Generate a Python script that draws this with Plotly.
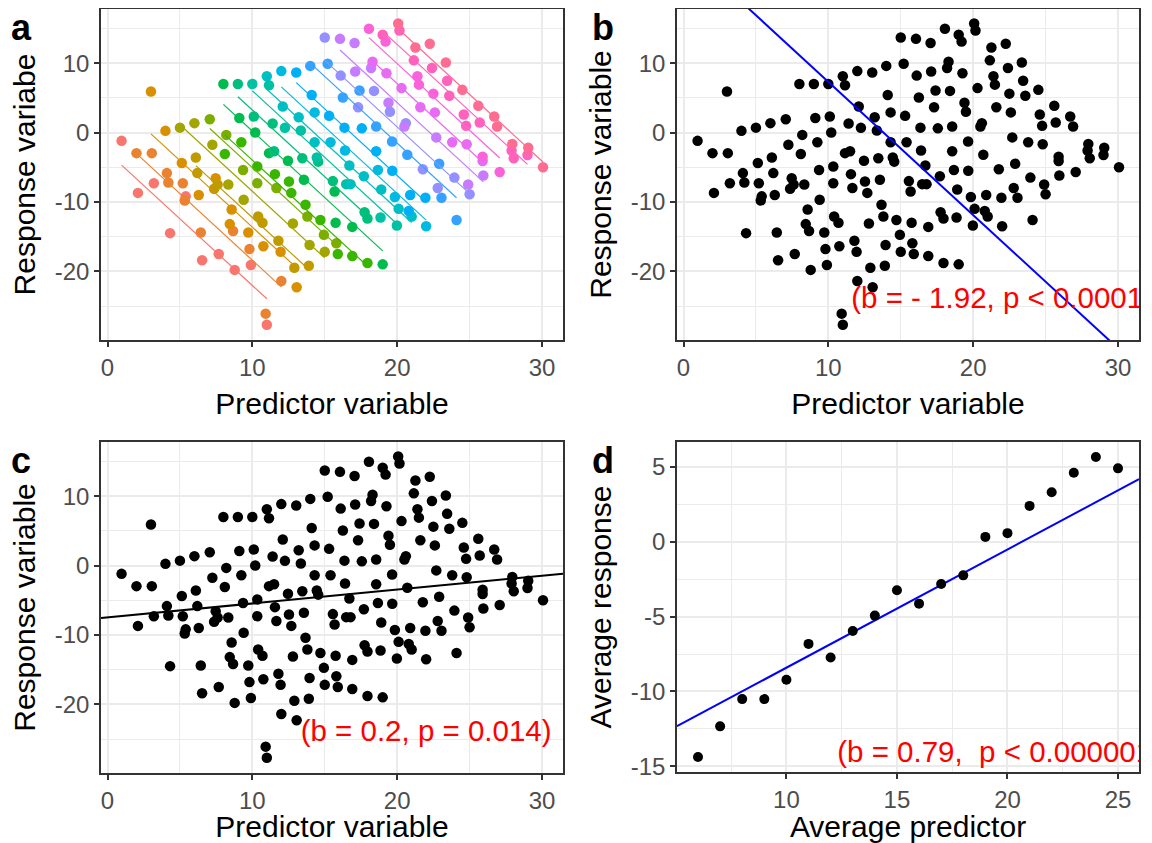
import plotly.graph_objects as go

# ---------------- data ----------------
pred_x = [15.0, 3.0, 4.0, 5.0, 6.0, 7.06, 8.0, 9.0, 10.0, 11.0, 11.15, 12.0, 13.03, 14.0, 15.2, 14.1, 12.1, 13.2, 14.3, 15.3, 9.1, 10.1, 11.4, 12.25, 13.35, 10.2, 8.2,
          20.07, 20.16, 18.05, 19.0, 19.2, 16.05, 17.06, 22.25, 21.26, 21.15, 23.36, 22.4, 23.45, 24.5, 25.6, 26.7, 26.9, 25.7, 24.76, 24.6, 23.6, 22.5, 21.5, 21.4, 20.3, 19.26, 18.3, 18.2, 17.1, 18.4, 19.4, 19.5, 17.3, 16.1, 16.25, 17.4, 21.6, 22.6, 20.6, 20.5, 18.55, 17.56, 16.36,
          0.97, 2.0, 3.06, 2.1, 3.2, 4.1, 4.2, 5.13, 5.2, 5.4, 5.33, 6.1, 6.2, 6.3, 7.24, 8.1, 7.47, 7.6, 7.36, 8.34, 9.24, 9.36, 9.4, 8.57, 8.44, 8.67, 10.34, 10.34, 10.4,
          11.15, 11.5, 11.56, 12.46, 13.45, 14.45, 14.55, 14.3, 15.4, 16.4, 18.55, 19.65, 20.7, 12.53, 13.56, 11.66, 12.69, 15.56, 15.68, 16.48, 16.78, 16.7, 17.7, 18.67, 19.66, 18.9, 19.84, 20.9, 20.8, 20.1, 10.7, 12.8, 13.67, 13.8, 14.7, 15.75, 16.9, 17.75, 17.95, 18.85, 19.98, 21.0, 22.0, 24.1,
          22.7, 23.8, 24.8, 25.9, 25.9, 27.08, 25.95, 24.9, 25.0, 23.95, 22.8, 21.77, 22.9, 21.95, 23.06, 27.95, 27.9, 28.05, 29.05, 29.0, 30.07,
          9.72, 9.8, 9.9, 8.78, 7.68, 6.53, 6.44, 4.32, 10.76, 12.0, 13.06, 10.92, 11.0, 11.8, 11.95, 13.95, 12.9, 13.9, 14.94, 15.0,
          15.8, 15.9, 16.9, 17.95, 19.0]
resp_y = [13.7, 5.9, 0.24, 0.7, 1.35, 1.92, 7.0, 7.0, 7.0, 8.1, 6.8, 8.85, 8.65, 9.6, 9.9, 5.4, 3.75, 2.2, 2.9, 2.4, 2.1, 2.3, 1.3, 0.67, 0.29, 0.0, -0.34,
          15.7, 14.7, 14.95, 14.1, 13.1, 13.5, 12.9, 12.8, 12.26, 10.4, 10.1, 9.3, 7.45, 6.15, 3.85, 2.3, 0.87, 1.44, 0.96, 2.6, 5.3, 5.6, 6.9, 8.1, 6.4, 8.55, 10.2, 9.3, 8.8, 6.0, 4.3, 3.0, 3.65, 8.2, 5.05, 6.05, 3.65, 2.9, 1.35, 0.87, 0.87, 0.6, 0.7,
          -1.2, -2.97, -2.97, -8.7, -7.3, -5.85, -7.2, -4.4, -7.3, -9.2, -9.8, -3.6, -5.85, -9.0, -1.77, -3.1, -6.6, -7.5, -8.1, -7.5, -1.4, -5.4, -9.7, -11.1, -13.2, -14.2, -4.9, -7.3, -12.1,
          -2.97, -2.7, -6.0, -4.08, -3.7, -3.6, -4.2, -1.4, -1.4, -2.6, -2.7, -1.3, -3.2, -7.06, -6.8, -8.0, -8.7, -7.0, -8.5, -7.44, -7.44, -4.75, -6.3, -5.4, -5.5, -8.2, -9.3, -9.0, -11.3, -11.0, -13.0, -13.1, -10.4, -12.1, -12.6, -13.0, -13.6, -11.5, -12.4, -12.25, -13.4, -12.1, -13.5, -12.6,
          -0.7, -1.4, -1.7, -3.5, -4.1, -5.7, -6.2, -7.5, -8.9, -6.5, -8.0, -5.3, -4.5, -9.4, -9.4, -1.65, -2.6, -3.7, -2.2, -3.25, -5.0,
          -14.4, -16.8, -19.1, -19.8, -17.5, -18.4, -14.4, -14.5, -16.4, -21.4, -22.3, -26.1, -27.7, -15.6, -17.2, -16.2, -19.5, -19.2, -14.75, -17.2,
          -15.95, -17.5, -17.8, -18.8, -19.0]
group_id = [15, 3, 3, 5, 5, 6, 8, 9, 10, 11, 10, 12, 13, 14, 14, 13, 11, 11, 12, 13, 8, 9, 9, 10, 10, 8, 6,
            20, 19, 18, 19, 18, 16, 16, 20, 20, 19, 20, 19, 19, 20, 20, 20, 20, 19, 19, 19, 19, 18, 18, 18, 17, 17, 17, 16, 16, 15, 16, 15, 15, 15, 14, 14, 17, 17, 15, 16, 14, 13, 13,
            1, 2, 2, 1, 1, 2, 2, 3, 2, 1, 2, 4, 4, 3, 5, 7, 3, 4, 4, 5, 7, 6, 5, 3, 3, 2, 7, 6, 4,
            8, 9, 7, 8, 9, 10, 9, 11, 12, 12, 13, 14, 14, 7, 8, 6, 7, 9, 8, 10, 11, 11, 11, 12, 13, 11, 12, 13, 13, 11, 4, 5, 7, 6, 7, 8, 8, 9, 9, 10, 10, 11, 12, 14,
            16, 17, 17, 18, 17, 18, 16, 16, 15, 15, 15, 15, 14, 13, 14, 20, 19, 19, 20, 19, 20,
            3, 2, 1, 1, 1, 1, 2, 1, 3, 2, 3, 2, 1, 4, 3, 5, 4, 4, 6, 5,
            6, 7, 7, 7, 8]

avg_pred = [6, 7, 8, 9, 10, 11, 12, 13, 14, 15, 16, 17, 18, 19, 20, 21, 22, 23, 24, 25]
avg_resp = [-14.38, -12.33, -10.51, -10.51, -9.22, -6.82, -7.73, -5.96, -4.93, -3.24,
            -4.13, -2.82, -2.24, 0.33, 0.58, 2.4, 3.31, 4.62, 5.67, 4.91]

# tick labels
ticks_pred = [0, 10, 20, 30]
ticks_pred_text = ["0", "10", "20", "30"]
ticks_resp = [-20, -10, 0, 10]
ticks_resp_text = ["-20", "-10", "0", "10"]
ticks_avgpred = [10, 15, 20, 25]
ticks_avgpred_text = ["10", "15", "20", "25"]
ticks_avgresp = [-15, -10, -5, 0, 5]
ticks_avgresp_text = ["-15", "-10", "-5", "0", "5"]

# model coefficients
within_slope = -1.92
b_intercept = 26.5
c_intercept, c_slope = -7.47, 0.2
d_intercept, d_slope = -16.31, 0.79

label_b = "(b = - 1.92, p < 0.0001)"
label_c = "(b = 0.2, p = 0.014)"
label_d = "(b = 0.79,\u00a0 p < 0.000001)"

hue_colors = ["#F8766D", "#EA8331", "#D89000", "#C09B00", "#A3A500", "#7CAE00", "#39B600",
              "#00BB4E", "#00BF7D", "#00C1A3", "#00BFC4", "#00BAE0", "#00B0F6", "#35A2FF",
              "#9590FF", "#C77CFF", "#E76BF3", "#FA62DB", "#FF62BC", "#FF6C91"]

# ---------------- figure ----------------
# the page body has an 8px margin, so the figure is drawn 8px in from the window corner
OFF = 8
W, H = 1152 - OFF, 843 - OFF
FONT = "Liberation Sans, Arial, sans-serif"
XR = [-0.45, 31.45]
YR = [-29.9, 17.8]
XRD = [5.05, 25.95]
YRD = [-15.38, 6.67]

fig = go.Figure()

# panel a: coloured points + per-group lines
for g in range(1, 21):
    gx = [x for x, gg in zip(pred_x, group_id) if gg == g]
    gy = [y for y, gg in zip(resp_y, group_id) if gg == g]
    fig.add_trace(go.Scatter(x=gx, y=gy, mode="markers", xaxis="x", yaxis="y",
                             marker=dict(size=10.5, color=hue_colors[g - 1]),
                             showlegend=False, hoverinfo="skip"))
for g in range(1, 21):
    gx = [x for x, gg in zip(pred_x, group_id) if gg == g]
    gy = [y for y, gg in zip(resp_y, group_id) if gg == g]
    mx = sum(gx) / len(gx)
    my = sum(gy) / len(gy)
    lx = [min(gx), max(gx)]
    ly = [my + within_slope * (v - mx) for v in lx]
    fig.add_trace(go.Scatter(x=lx, y=ly, mode="lines", xaxis="x", yaxis="y",
                             line=dict(color=hue_colors[g - 1], width=1.2),
                             showlegend=False, hoverinfo="skip"))

# panel b
fig.add_trace(go.Scatter(x=pred_x, y=resp_y, mode="markers", xaxis="x2", yaxis="y2",
                         marker=dict(size=10.5, color="black"), showlegend=False, hoverinfo="skip"))
fig.add_trace(go.Scatter(x=XR, y=[b_intercept + within_slope * v for v in XR], mode="lines",
                         xaxis="x2", yaxis="y2", line=dict(color="blue", width=2),
                         showlegend=False, hoverinfo="skip"))
fig.add_trace(go.Scatter(x=[22], y=[-24.2], mode="text", text=[label_b], textposition="middle center",
                         textfont=dict(size=29.5, color="red", family=FONT), xaxis="x2", yaxis="y2",
                         cliponaxis=True, showlegend=False, hoverinfo="skip"))

# panel c
fig.add_trace(go.Scatter(x=pred_x, y=resp_y, mode="markers", xaxis="x3", yaxis="y3",
                         marker=dict(size=10.5, color="black"), showlegend=False, hoverinfo="skip"))
fig.add_trace(go.Scatter(x=XR, y=[c_intercept + c_slope * v for v in XR], mode="lines",
                         xaxis="x3", yaxis="y3", line=dict(color="black", width=2),
                         showlegend=False, hoverinfo="skip"))
fig.add_trace(go.Scatter(x=[22], y=[-24.2], mode="text", text=[label_c], textposition="middle center",
                         textfont=dict(size=29.5, color="red", family=FONT), xaxis="x3", yaxis="y3",
                         cliponaxis=True, showlegend=False, hoverinfo="skip"))

# panel d
fig.add_trace(go.Scatter(x=XRD, y=[d_intercept + d_slope * v for v in XRD], mode="lines",
                         xaxis="x4", yaxis="y4", line=dict(color="blue", width=2),
                         showlegend=False, hoverinfo="skip"))
fig.add_trace(go.Scatter(x=avg_pred, y=avg_resp, mode="markers", xaxis="x4", yaxis="y4",
                         marker=dict(size=10, color="black"), showlegend=False, hoverinfo="skip"))
fig.add_trace(go.Scatter(x=[12.3], y=[-14.2], mode="text", text=[label_d], textposition="middle right",
                         textfont=dict(size=29.5, color="red", family=FONT), xaxis="x4", yaxis="y4",
                         cliponaxis=True, showlegend=False, hoverinfo="skip"))


def xd(l, r):
    return [(l - OFF) / W, (r - OFF) / W]


def yd(t, b):
    return [1 - (b - OFF) / H, 1 - (t - OFF) / H]


def axis(domain, rng, tv, tt, minor_dtick, title, anchor, standoff):
    return dict(domain=domain, range=rng, anchor=anchor,
                tickmode="array", tickvals=tv, ticktext=tt,
                showline=True, mirror=True, linecolor="#333333", linewidth=1.6,
                ticks="outside", ticklen=5, tickwidth=1.6, tickcolor="#333333",
                showgrid=True, gridcolor="#EBEBEB", gridwidth=2, zeroline=False,
                tickfont=dict(size=24, color="#4D4D4D", family=FONT),
                title=dict(text=title, font=dict(size=30, color="black", family=FONT), standoff=standoff),
                minor=dict(dtick=minor_dtick, tick0=0, showgrid=True, gridcolor="#EBEBEB", gridwidth=1, ticks=""),
                automargin=False, fixedrange=True)


# panel positions in window pixels
LX, RX = xd(101, 563), xd(677, 1139)
TY, BY = yd(9, 340), yd(442, 773)
DY = yd(442, 772)

fig.update_layout(
    width=W, height=H,
    margin=dict(l=0, r=0, t=0, b=0),
    paper_bgcolor="white", plot_bgcolor="white",
    font=dict(family=FONT),
    showlegend=False,
    xaxis=axis(LX, XR, ticks_pred, ticks_pred_text, 5, "Predictor variable", "y", 13),
    yaxis=axis(TY, YR, ticks_resp, ticks_resp_text, 5, "Response variabe", "x", 10),
    xaxis2=axis(RX, XR, ticks_pred, ticks_pred_text, 5, "Predictor variable", "y2", 13),
    yaxis2=axis(TY, YR, ticks_resp, ticks_resp_text, 5, "Response variable", "x2", 10),
    xaxis3=axis(LX, XR, ticks_pred, ticks_pred_text, 5, "Predictor variable", "y3", 13),
    yaxis3=axis(BY, YR, ticks_resp, ticks_resp_text, 5, "Response variable", "x3", 10),
    xaxis4=axis(RX, XRD, ticks_avgpred, ticks_avgpred_text, 2.5, "Average predictor", "y4", 13),
    yaxis4=axis(DY, YRD, ticks_avgresp, ticks_avgresp_text, 2.5, "Average response", "x4", 10),
)

# panel tags (window pixels of the glyph box anchor)
for tag, px, py in [("a", 9, 27), ("b", 590, 27), ("c", 9, 460), ("d", 590, 460)]:
    fig.add_annotation(text="<b>%s</b>" % tag, xref="paper", yref="paper",
                       x=(px - OFF) / W, y=1 - (py - OFF) / H, xanchor="left", yanchor="middle",
                       showarrow=False, font=dict(size=36, color="black", family=FONT))

fig.write_html("out.html")
